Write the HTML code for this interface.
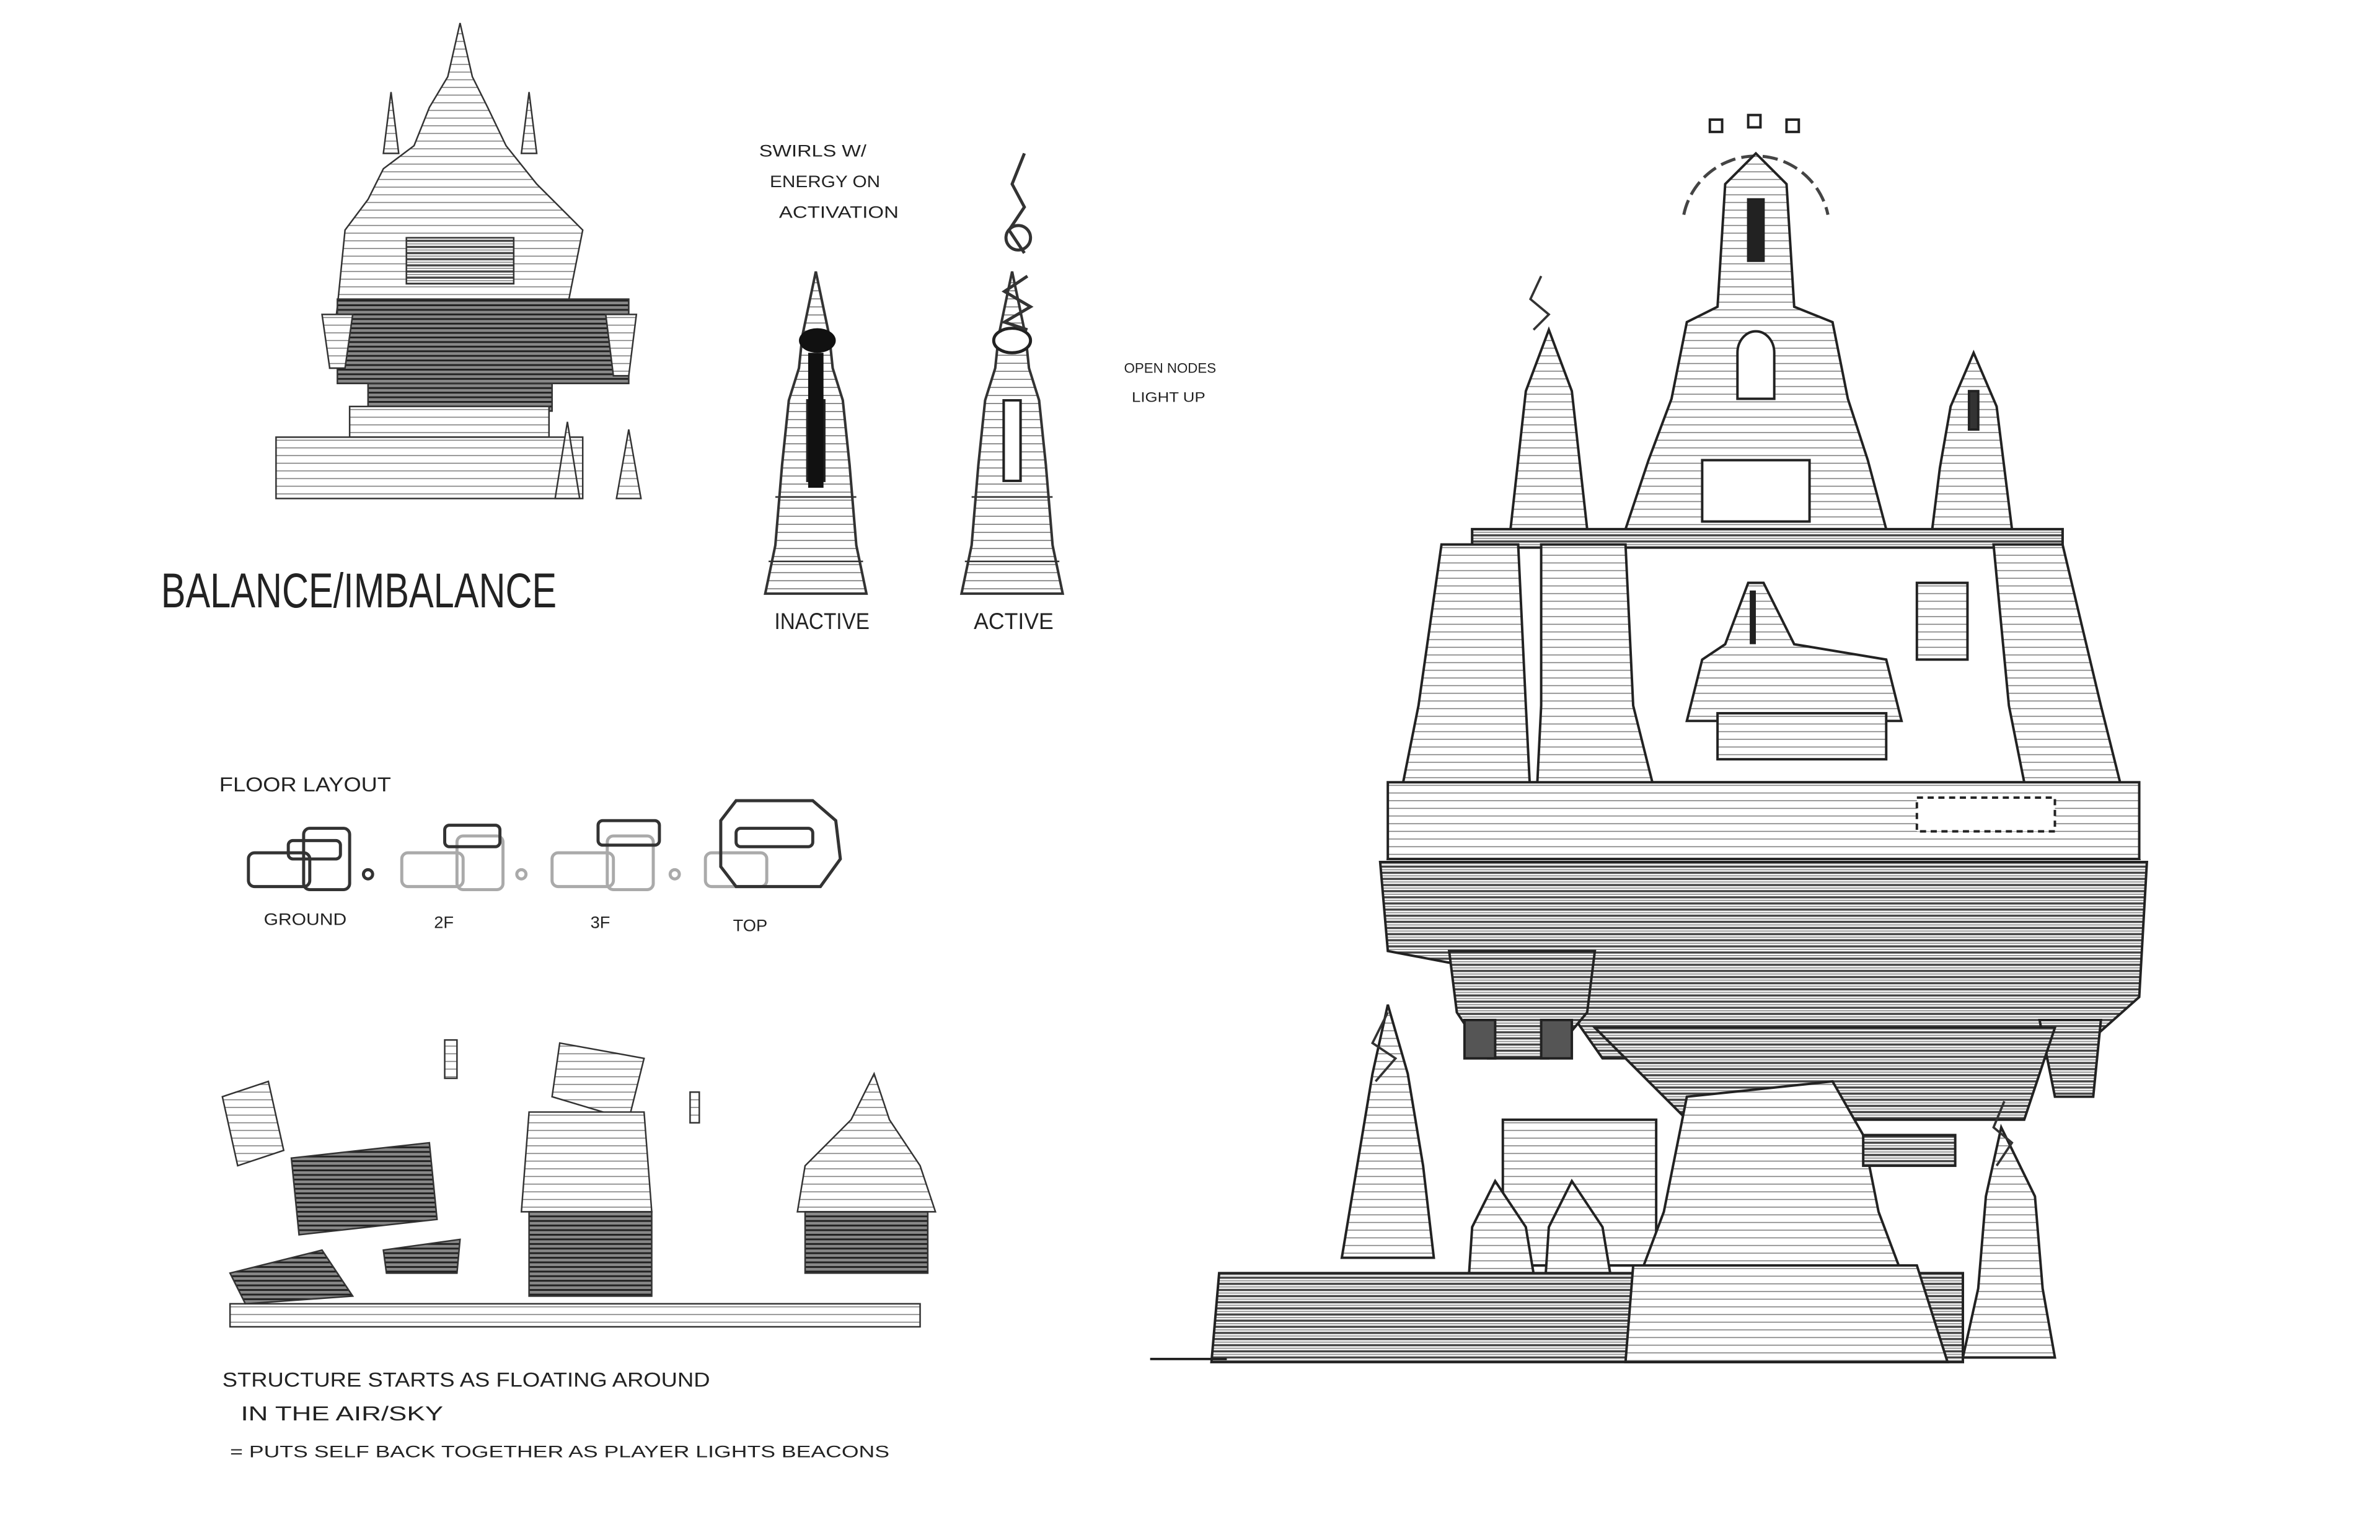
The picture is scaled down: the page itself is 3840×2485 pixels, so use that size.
<!DOCTYPE html>
<html><head><meta charset="utf-8"><style>
html,body{margin:0;padding:0;background:#fff;}
svg{display:block;}
text{font-family:"Liberation Sans",sans-serif;fill:#222;}
</style></head><body>
<svg width="3840" height="2485" viewBox="0 0 1552 1004" preserveAspectRatio="none" xmlns="http://www.w3.org/2000/svg">
<defs>
<pattern id="st" width="6" height="4" patternUnits="userSpaceOnUse"><rect width="6" height="4" fill="#fff"/><line x1="0" y1="1" x2="6" y2="1" stroke="#444" stroke-width="1.4"/><line x1="0" y1="3" x2="6" y2="3" stroke="#999" stroke-width="0.8"/></pattern>
<pattern id="lt" width="6" height="5" patternUnits="userSpaceOnUse"><rect width="6" height="5" fill="#fff"/><line x1="0" y1="2" x2="6" y2="2" stroke="#777" stroke-width="0.6"/></pattern>
<pattern id="dk" width="4" height="3" patternUnits="userSpaceOnUse"><rect width="4" height="3" fill="#888"/><line x1="0" y1="1" x2="4" y2="1" stroke="#222" stroke-width="1.2"/></pattern>
<g id="spire">
<path d="M0,-100 L-4,-80 L-8,-60 L-10,-40 L-16,-20 L-20,20 L-24,70 L-30,100 L30,100 L24,70 L20,20 L16,-20 L10,-40 L8,-60 L4,-80 Z" fill="url(#lt)" stroke="#333" stroke-width="1.5"/>
<rect x="-5" y="-20" width="10" height="50" fill="#fff" stroke="#222" stroke-width="1.5"/>
<line x1="-24" y1="40" x2="24" y2="40" stroke="#333"/><line x1="-28" y1="80" x2="28" y2="80" stroke="#333"/>
</g>
</defs>
<rect width="1552" height="1004" fill="#fff"/>

<!-- Top-left building -->
<g stroke="#333" stroke-width="1" fill="url(#lt)">
<path d="M300,15 L292,50 L280,70 L270,95 L250,110 L240,130 L225,150 L220,200 L215,240 L370,240 L370,200 L380,150 L350,120 L330,95 L318,70 L308,50 Z"/>
<path d="M255,60 L250,100 L260,100 Z M345,60 L340,100 L350,100 Z"/>
<rect x="220" y="195" width="190" height="55" fill="url(#dk)"/>
<rect x="240" y="250" width="120" height="18" fill="url(#dk)"/>
<path d="M210,205 L230,205 L225,240 L215,240 Z M395,205 L415,205 L410,245 L400,245 Z"/>
<rect x="228" y="265" width="130" height="20"/>
<rect x="180" y="285" width="200" height="40"/>
<path d="M370,275 L378,325 L362,325 Z M410,280 L418,325 L402,325 Z"/>
<rect x="265" y="155" width="70" height="30" fill="url(#st)"/>
</g>

<text x="105" y="396" font-size="32" textLength="258" lengthAdjust="spacingAndGlyphs">BALANCE/IMBALANCE</text>

<text x="495" y="102" font-size="11" textLength="70" lengthAdjust="spacingAndGlyphs">SWIRLS W/</text>
<text x="502" y="122" font-size="11" textLength="72" lengthAdjust="spacingAndGlyphs">ENERGY ON</text>
<text x="508" y="142" font-size="11" textLength="78" lengthAdjust="spacingAndGlyphs">ACTIVATION</text>

<use href="#spire" transform="translate(532,282) scale(1.1,1.05)"/>
<rect x="527" y="230" width="10" height="88" fill="#111"/>
<ellipse cx="533" cy="222" rx="12" ry="8" fill="#111"/>
<use href="#spire" transform="translate(660,282) scale(1.1,1.05)"/>
<ellipse cx="660" cy="222" rx="12" ry="8" fill="#fff" stroke="#222" stroke-width="2"/>
<path d="M670,180 L655,190 L672,200 L655,210 L670,215" fill="none" stroke="#333" stroke-width="2"/>
<path d="M668,100 L660,120 L668,135 L658,150 L668,165" fill="none" stroke="#333" stroke-width="2"/>
<circle cx="664" cy="155" r="8" fill="none" stroke="#333" stroke-width="2"/>
<text x="505" y="410" font-size="15" textLength="62" lengthAdjust="spacingAndGlyphs">INACTIVE</text>
<text x="635" y="410" font-size="15" textLength="52" lengthAdjust="spacingAndGlyphs">ACTIVE</text>
<text x="733" y="243" font-size="9" textLength="60" lengthAdjust="spacingAndGlyphs">OPEN NODES</text>
<text x="738" y="262" font-size="9" textLength="48" lengthAdjust="spacingAndGlyphs">LIGHT UP</text>

<text x="143" y="516" font-size="13" textLength="112" lengthAdjust="spacingAndGlyphs">FLOOR LAYOUT</text>
<g fill="none" stroke-width="2">
<g stroke="#333"><rect x="162" y="556" width="40" height="22" rx="4"/><rect x="198" y="540" width="30" height="40" rx="4"/><rect x="188" y="548" width="34" height="12" rx="3"/></g>
<circle cx="240" cy="570" r="3" stroke="#333"/>
<g stroke="#aaa"><rect x="262" y="556" width="40" height="22" rx="4"/><rect x="298" y="545" width="30" height="35" rx="4"/><rect x="290" y="538" width="36" height="14" rx="3" stroke="#333"/></g>
<circle cx="340" cy="570" r="3" stroke="#aaa"/>
<g stroke="#aaa"><rect x="360" y="556" width="40" height="22" rx="4"/><rect x="396" y="545" width="30" height="35" rx="4"/><rect x="390" y="535" width="40" height="16" rx="3" stroke="#333"/></g>
<circle cx="440" cy="570" r="3" stroke="#aaa"/>
<g stroke="#aaa"><rect x="460" y="556" width="40" height="22" rx="4"/></g>
<path d="M470,535 L480,522 L530,522 L545,535 L548,560 L535,578 L480,578 L470,565 Z" stroke="#333"/>
<rect x="480" y="540" width="50" height="12" rx="3" stroke="#333"/>
</g>
<text x="172" y="603" font-size="11" textLength="54" lengthAdjust="spacingAndGlyphs">GROUND</text>
<text x="283" y="605" font-size="11">2F</text>
<text x="385" y="605" font-size="11">3F</text>
<text x="478" y="607" font-size="11">TOP</text>

<g stroke="#333" stroke-width="1">
<rect x="150" y="850" width="450" height="15" fill="url(#lt)"/>
<path d="M145,715 L175,705 L185,750 L155,760 Z" fill="url(#lt)"/>
<path d="M190,755 L280,745 L285,795 L195,805 Z" fill="url(#dk)"/>
<path d="M150,830 L210,815 L230,845 L160,850 Z" fill="url(#dk)"/>
<path d="M250,815 L300,808 L298,830 L252,830 Z" fill="url(#dk)"/>
<path d="M365,680 L420,690 L410,730 L360,715 Z" fill="url(#lt)"/>
<path d="M345,725 L420,725 L425,790 L340,790 Z" fill="url(#lt)"/>
<rect x="345" y="790" width="80" height="55" fill="url(#dk)"/>
<path d="M570,700 L555,730 L525,760 L520,790 L610,790 L600,760 L580,730 Z" fill="url(#lt)"/>
<rect x="525" y="790" width="80" height="40" fill="url(#dk)"/>
<rect x="290" y="678" width="8" height="25" fill="url(#lt)"/>
<rect x="450" y="712" width="6" height="20" fill="url(#lt)"/>
</g>
<text x="145" y="904" font-size="13" textLength="318" lengthAdjust="spacingAndGlyphs">STRUCTURE STARTS AS FLOATING AROUND</text>
<text x="157" y="926" font-size="13" textLength="132" lengthAdjust="spacingAndGlyphs">IN THE AIR/SKY</text>
<text x="150" y="950" font-size="11" textLength="430" lengthAdjust="spacingAndGlyphs">= PUTS SELF BACK TOGETHER AS PLAYER LIGHTS BEACONS</text>

<g stroke="#222" stroke-width="1.6">
<path d="M1098,140 A48,48 0 0 1 1192,140" fill="none" stroke="#444" stroke-width="2" stroke-dasharray="10 4"/>
<rect x="1115" y="78" width="8" height="8" fill="none"/><rect x="1140" y="75" width="8" height="8" fill="none"/><rect x="1165" y="78" width="8" height="8" fill="none"/>
<path d="M1145,100 L1125,120 L1120,200 L1100,210 L1090,260 L1075,300 L1060,345 L1230,345 L1218,300 L1205,260 L1195,210 L1170,200 L1165,120 Z" fill="url(#lt)"/>
<rect x="1140" y="130" width="10" height="40" fill="#222"/>
<path d="M1133,230 A12,14 0 0 1 1157,230 L1157,260 L1133,260 Z" fill="#fff"/>
<rect x="1110" y="300" width="70" height="40" fill="#fff"/>
<path d="M1010,215 L995,255 L990,300 L985,345 L1035,345 L1030,300 L1025,255 Z" fill="url(#lt)"/>
<path d="M1287,230 L1272,265 L1265,305 L1260,345 L1312,345 L1307,305 L1302,265 Z" fill="url(#lt)"/>
<rect x="1284" y="255" width="6" height="25" fill="#333"/>
<rect x="960" y="345" width="385" height="165" fill="#fff"/>
<rect x="960" y="345" width="385" height="12" fill="url(#st)"/>
<rect x="1012" y="380" width="33" height="50" fill="url(#lt)"/><rect x="1250" y="380" width="33" height="50" fill="url(#lt)"/>
<rect x="1015" y="460" width="27" height="45" fill="url(#lt)"/>
<path d="M1140,380 L1125,420 L1110,430 L1100,470 L1240,470 L1230,430 L1170,420 L1150,380 Z" fill="url(#lt)"/>
<rect x="1120" y="465" width="110" height="30" fill="url(#lt)"/>
<line x1="1143" y1="385" x2="1143" y2="420" stroke-width="4"/>
<path d="M940,355 L925,460 L905,560 L1000,560 L995,460 L990,355 Z" fill="url(#lt)"/>
<path d="M1060,355 L1065,460 L1090,560 L1000,560 L1005,460 L1005,355 Z" fill="url(#lt)"/>
<path d="M1300,355 L1310,460 L1330,560 L1395,560 L1370,460 L1345,355 Z" fill="url(#lt)"/>
<rect x="905" y="510" width="490" height="50" fill="url(#lt)"/>
<rect x="1250" y="520" width="90" height="22" fill="#fff" stroke-dasharray="4 3"/>
<path d="M900,562 L1400,562 L1395,650 L1350,690 L1045,690 L1010,640 L905,620 Z" fill="url(#st)"/>
<path d="M945,620 L1040,620 L1035,660 L1010,690 L970,690 L950,660 Z" fill="url(#st)"/>
<rect x="955" y="665" width="20" height="25" fill="#555"/><rect x="1005" y="665" width="20" height="25" fill="#555"/>
<path d="M1330,665 L1370,665 L1365,715 L1340,715 Z" fill="url(#st)"/>
<path d="M1040,670 L1340,670 L1320,730 L1100,730 Z" fill="url(#st)"/>
<rect x="980" y="730" width="100" height="95" fill="url(#lt)"/>
<path d="M1100,715 L1195,705 L1215,740 L1225,790 L1240,830 L1070,830 L1085,790 L1095,740 Z" fill="url(#lt)"/>
<rect x="1215" y="740" width="60" height="20" fill="url(#st)"/>
<path d="M905,655 L895,700 L885,760 L875,820 L935,820 L928,760 L918,700 Z" fill="url(#lt)"/>
<path d="M975,770 L960,800 L958,830 L1000,830 L995,800 Z M1025,770 L1010,800 L1008,830 L1050,830 L1045,800 Z" fill="url(#lt)"/>
<path d="M1305,735 L1295,780 L1290,840 L1280,885 L1340,885 L1332,840 L1327,780 Z" fill="url(#lt)"/>
<path d="M795,830 L1280,830 L1280,888 L790,888 Z" fill="url(#st)"/>
<path d="M1065,825 L1250,825 L1270,888 L1060,888 Z" fill="url(#lt)"/>
<line x1="750" y1="886" x2="800" y2="886"/>
</g>
<path d="M1005,180 L998,195 L1010,205 L1000,215" fill="none" stroke="#333" stroke-width="1.5"/>
<path d="M905,660 L895,680 L910,690 L897,705" fill="none" stroke="#333" stroke-width="1.5"/>
<path d="M1307,718 L1300,735 L1312,745 L1302,760" fill="none" stroke="#333" stroke-width="1.5"/>
</svg>
</body></html>
